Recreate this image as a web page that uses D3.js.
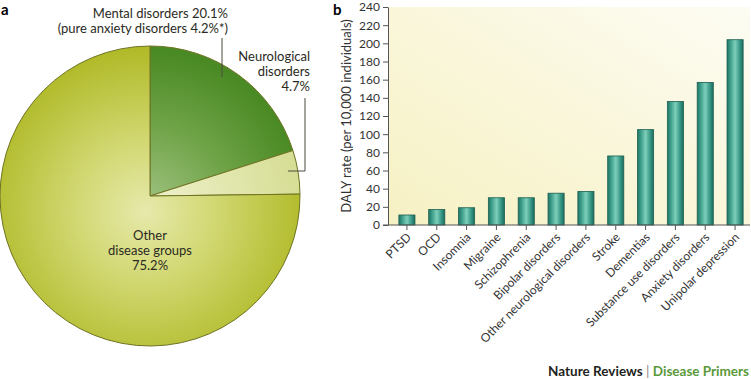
<!DOCTYPE html>
<html>
<head>
<meta charset="utf-8">
<script src="https://cdn.jsdelivr.net/npm/d3@7"></script>
<style>
  body { margin: 0; background: #fff; }
  svg { display: block; font-family: Lato, 'Open Sans', sans-serif; }
</style>
</head>
<body>
<div id="chart"></div>
<script>
// pie (panel a)
const pieGroups = ['Mental disorders', 'Neurological disorders', 'Other disease groups'];
const pieShares = [20.1, 4.7, 75.2];

// bars (panel b)
const disorders = ['PTSD', 'OCD', 'Insomnia', 'Migraine', 'Schizophrenia', 'Bipolar disorders',
    'Other neurological disorders', 'Stroke', 'Dementias', 'Substance use disorders',
    'Anxiety disorders', 'Unipolar depression'];
const dalyRates = [11, 17, 19, 30, 30, 35, 37, 76, 105, 136, 157, 204];
const yTickValues = [0, 20, 40, 60, 80, 100, 120, 140, 160, 180, 200, 220, 240];

const width = 751;
const height = 379;

const svg = d3.select('#chart')
    .append('svg')
    .attr('width', width)
    .attr('height', height);

const defs = svg.append('defs');

// ---------- panel a ----------
const pieR = 150;
const pie = svg.append('g')
    .attr('transform', `translate(150, 196)`);

const sliceStops = [
    [['0%', '#a3c585'], ['55%', '#6fa347'], ['100%', '#4a8a24']],
    [['0%', '#f0f2cf'], ['100%', '#d6dd93']],
    [['0%', '#e6e9ab'], ['45%', '#d1d770'], ['100%', '#b1bb2a']]
];
sliceStops.forEach((stops, i) => {
    const g = defs.append('radialGradient')
        .attr('id', `slice${i}`)
        .attr('gradientUnits', 'userSpaceOnUse')
        .attr('cx', -5).attr('cy', 15).attr('r', 160);
    stops.forEach(s => g.append('stop').attr('offset', s[0]).attr('stop-color', s[1]));
});

const pieGen = d3.pie().sort(null).value(d => d);
const arcGen = d3.arc().innerRadius(0).outerRadius(pieR);

pie.selectAll('path.slice')
    .data(pieGen(pieShares))
    .join('path')
        .attr('class', 'slice')
        .attr('d', arcGen)
        .attr('fill', (d, i) => `url(#slice${i})`)
        .attr('stroke', '#6e7322')
        .attr('stroke-width', 1);

const pieText = svg.append('g')
    .style('font-size', '13px')
    .attr('fill', '#2a2a22');

pieText.append('text').attr('x', 228).attr('y', 18).attr('text-anchor', 'end')
    .text(`${pieGroups[0]} ${pieShares[0]}%`);
pieText.append('text').attr('x', 228).attr('y', 33).attr('text-anchor', 'end')
    .text('(pure anxiety disorders 4.2%*)');

['Neurological', 'disorders', `${pieShares[1]}%`].forEach((t, i) => {
    pieText.append('text').attr('x', 310).attr('y', 61 + i * 15).attr('text-anchor', 'end').text(t);
});
['Other', 'disease groups', `${pieShares[2]}%`].forEach((t, i) => {
    pieText.append('text').attr('x', 150).attr('y', 240 + i * 15).attr('text-anchor', 'middle').text(t);
});

svg.append('line')
    .attr('x1', 222).attr('x2', 222).attr('y1', 38).attr('y2', 77)
    .attr('stroke', '#4a4a40').attr('stroke-width', 1);
svg.append('path')
    .attr('d', 'M305,98 V171 H288')
    .attr('fill', 'none')
    .attr('stroke', '#4a4a40').attr('stroke-width', 1);

svg.append('text').attr('x', 1).attr('y', 15)
    .style('font-size', '15px').style('font-weight', 700).text('a');

// ---------- panel b ----------
svg.append('text').attr('x', 333).attr('y', 15)
    .style('font-size', '15px').style('font-weight', 700).text('b');

const plot = { left: 388, right: 750, top: 7, bottom: 225 };

const bg = defs.append('linearGradient').attr('id', 'panelBg')
    .attr('x1', 0).attr('y1', 1).attr('x2', 1).attr('y2', 0);
bg.append('stop').attr('offset', '0%').attr('stop-color', '#f6f1c3');
bg.append('stop').attr('offset', '100%').attr('stop-color', '#fdfcf3');

svg.append('rect')
    .attr('x', plot.left).attr('y', plot.top)
    .attr('width', plot.right - plot.left).attr('height', plot.bottom - plot.top)
    .attr('fill', 'url(#panelBg)');

const x = d3.scaleBand()
    .domain(disorders)
    .range([392, plot.right])
    .paddingInner(0.46)
    .paddingOuter(0.23);

const y = d3.scaleLinear()
    .domain([0, 240])
    .range([plot.bottom, plot.top]);

const barGrad = defs.append('linearGradient').attr('id', 'barFill')
    .attr('x1', 0).attr('y1', 0).attr('x2', 1).attr('y2', 0);
[['0%', '#1f7565'], ['20%', '#3a9c88'], ['50%', '#7dcfba'], ['80%', '#349583'], ['100%', '#1c6b5c']]
    .forEach(s => barGrad.append('stop').attr('offset', s[0]).attr('stop-color', s[1]));

svg.append('g')
    .selectAll('rect')
    .data(dalyRates)
    .join('rect')
        .attr('x', (d, i) => x(disorders[i]))
        .attr('y', d => y(d))
        .attr('width', x.bandwidth())
        .attr('height', d => y(0) - y(d))
        .attr('fill', 'url(#barFill)')
        .attr('stroke', '#1d5e52')
        .attr('stroke-width', 0.8);

const yAxis = svg.append('g')
    .attr('transform', `translate(${plot.left}, 0)`)
    .call(d3.axisLeft(y).tickValues(yTickValues).tickSize(5).tickPadding(3).tickSizeOuter(0));
yAxis.select('.domain').attr('stroke', '#555');
yAxis.selectAll('.tick line').attr('stroke', '#555');
yAxis.selectAll('.tick text')
    .attr('fill', '#333')
    .style('font-size', '12px')
    .style('font-family', 'Lato, sans-serif');

const xAxis = svg.append('g')
    .attr('transform', `translate(0, ${plot.bottom})`)
    .call(d3.axisBottom(x).tickSize(5).tickSizeOuter(0).tickFormat(''));
xAxis.select('.domain').attr('stroke', '#555').attr('d', `M${plot.left - 5},0H${plot.right}`);
xAxis.selectAll('.tick line').attr('stroke', '#555');

svg.append('g')
    .selectAll('text')
    .data(disorders)
    .join('text')
        .attr('transform', d => `translate(${x(d) + x.bandwidth() / 2 + 5}, 238) rotate(-45)`)
        .attr('text-anchor', 'end')
        .attr('fill', '#333')
        .style('font-size', '12px')
        .text(d => d);

svg.append('text')
    .attr('transform', `translate(351, ${(plot.top + plot.bottom) / 2}) rotate(-90)`)
    .attr('text-anchor', 'middle')
    .attr('fill', '#333')
    .style('font-size', '13px')
    .text('DALY rate (per 10,000 individuals)');

// footer
const footer = svg.append('text')
    .attr('x', 749).attr('y', 376)
    .attr('text-anchor', 'end')
    .style('font-size', '13.5px')
    .style('font-weight', 700);
footer.append('tspan').attr('fill', '#231f20').text('Nature Reviews ');
footer.append('tspan').attr('fill', '#888').style('font-weight', 400).text('| ');
footer.append('tspan').attr('fill', '#5a9a3a').text('Disease Primers');
</script>
</body>
</html>
